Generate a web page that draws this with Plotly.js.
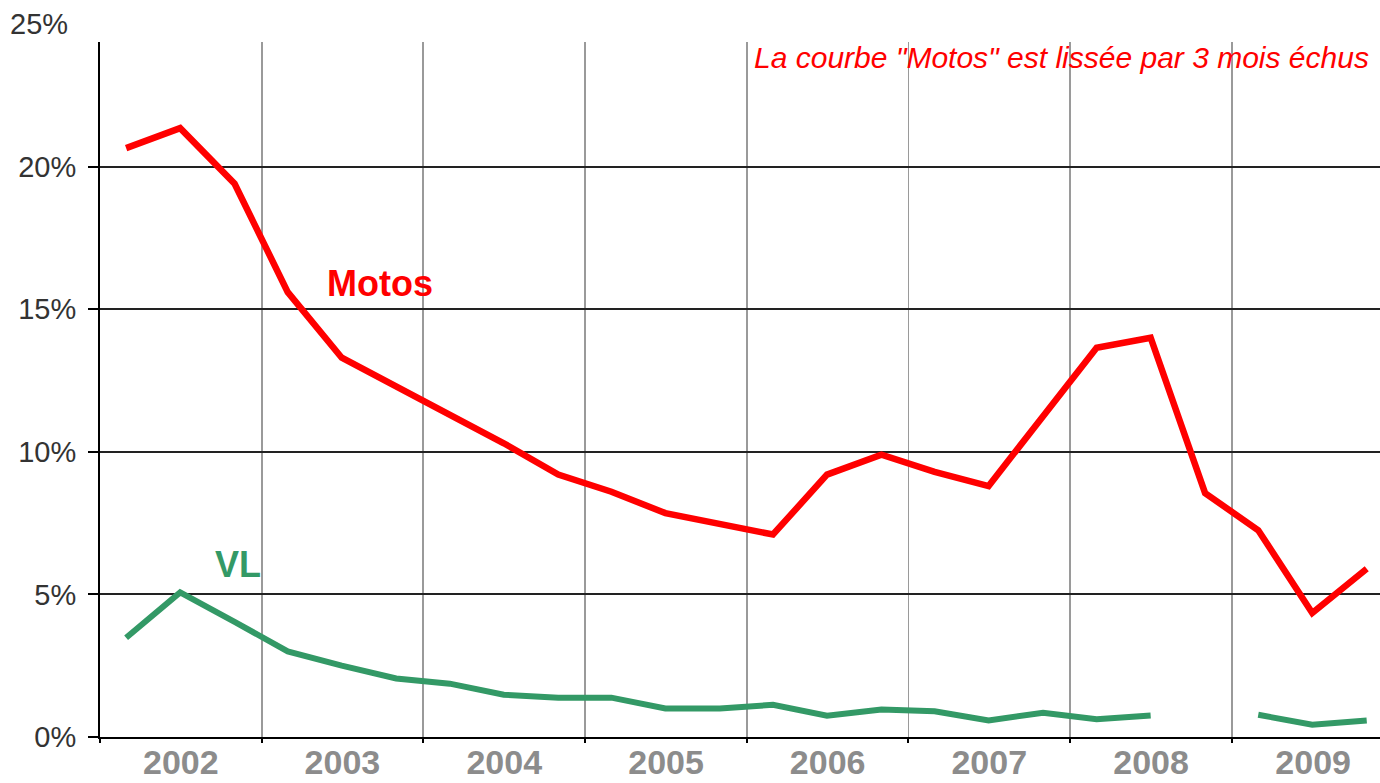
<!DOCTYPE html>
<html>
<head>
<meta charset="utf-8">
<script src="https://cdn.plot.ly/plotly-3.0.1.min.js"></script>
<style>
  html, body { margin: 0; padding: 0; background: #ffffff; }
  #chart { width: 1380px; height: 783px; }
</style>
</head>
<body>
<div id="chart"></div>
<script>
// Periods (three per year, centre of each 4-month block)
const periods = [
  '2002-03-01','2002-07-01','2002-11-01',
  '2003-03-01','2003-07-01','2003-11-01',
  '2004-03-01','2004-07-01','2004-11-01',
  '2005-03-01','2005-07-01','2005-11-01',
  '2006-03-01','2006-07-01','2006-11-01',
  '2007-03-01','2007-07-01','2007-11-01',
  '2008-03-01','2008-07-01','2008-11-01',
  '2009-03-01','2009-07-01','2009-11-01'
];

// Motos (%), smoothed over 3 months
const motos = [20.65, 21.35, 19.4, 15.6, 13.3, 12.3, 11.3, 10.3, 9.2, 8.6, 7.85, 7.45,
               7.1, 9.2, 9.9, 9.3, 8.8, 11.25, 13.65, 14.0, 8.55, 7.25, 4.35, 5.9];

// VL (%)
const vl = [3.48, 5.07, 4.04, 3.0, 2.5, 2.05, 1.87, 1.48, 1.38, 1.38, 1.0, 1.0,
            1.13, 0.75, 0.96, 0.9, 0.58, 0.85, 0.62, 0.75, null, 0.78, 0.43, 0.58];

const yTicks = [0, 5, 10, 15, 20];
const yTickText = ['0%', '5%', '10%', '15%', '20%'];
const yTopLabel = '25%';
const yTopValue = 25;
const yMax = 24.37;
const xRange = ['2002-01-01', '2009-12-01'];

const note = 'La courbe "Motos" est lissée par 3 mois échus';
const motosLabel = { text: 'Motos', x: '2003-09-25', y: 15.9 };
const vlLabel = { text: 'VL', x: '2002-11-08', y: 6.05 };

const FONT = 'Liberation Sans, Arial, sans-serif';

const traces = [
  {
    x: periods, y: motos, type: 'scatter', mode: 'lines', name: 'Motos',
    line: { color: '#ff0000', width: 6.5 }, hoverinfo: 'x+y'
  },
  {
    x: periods, y: vl, type: 'scatter', mode: 'lines', name: 'VL',
    connectgaps: false,
    line: { color: '#339966', width: 6 }, hoverinfo: 'x+y'
  }
];

const layout = {
  width: 1380, height: 783,
  margin: { l: 100, r: 0, t: 42, b: 46, pad: 0 },
  paper_bgcolor: '#ffffff', plot_bgcolor: '#ffffff',
  showlegend: false,
  xaxis: {
    type: 'date', range: xRange, autorange: false,
    tick0: '2002-01-01', dtick: 'M12', tickformat: '%Y', ticklabelmode: 'period',
    showgrid: true, gridcolor: '#9a9a9a', gridwidth: 1.8,
    showline: true, linecolor: '#000000', linewidth: 2,
    ticks: 'outside', ticklen: 4, tickcolor: '#000000', tickwidth: 2,
    ticklabelstandoff: -10,
    tickfont: { family: FONT, size: 34, color: '#8c8c8c', weight: 'bold' },
    automargin: false, zeroline: false, fixedrange: true
  },
  yaxis: {
    range: [0, yMax], autorange: false,
    tickmode: 'array', tickvals: yTicks, ticktext: yTickText,
    showgrid: true, gridcolor: '#222222', gridwidth: 2,
    showline: true, linecolor: '#000000', linewidth: 2,
    ticks: 'outside', ticklen: 10, tickcolor: '#000000', tickwidth: 2,
    ticklabelstandoff: 6,
    tickfont: { family: FONT, size: 29, color: '#333333' },
    automargin: false, zeroline: false, fixedrange: true
  },
  annotations: [
    {
      text: yTopLabel, xref: 'paper', yref: 'paper',
      x: 0, y: yTopValue / yMax, xanchor: 'right', yanchor: 'middle',
      xshift: -30, showarrow: false,
      font: { family: FONT, size: 29, color: '#333333' }
    },
    {
      text: note, xref: 'paper', yref: 'paper', x: 0.993, y: 0.978,
      xanchor: 'right', yanchor: 'middle', showarrow: false,
      font: { family: FONT, size: 30, color: '#ff0000', style: 'italic' }
    },
    {
      text: motosLabel.text, xref: 'x', yref: 'y', x: motosLabel.x, y: motosLabel.y,
      xanchor: 'center', yanchor: 'middle', showarrow: false,
      font: { family: FONT, size: 36, color: '#ff0000', weight: 'bold' }
    },
    {
      text: vlLabel.text, xref: 'x', yref: 'y', x: vlLabel.x, y: vlLabel.y,
      xanchor: 'center', yanchor: 'middle', showarrow: false,
      font: { family: FONT, size: 36, color: '#339966', weight: 'bold' }
    }
  ]
};

Plotly.newPlot('chart', traces, layout, { displayModeBar: false, staticPlot: true });
</script>
</body>
</html>
